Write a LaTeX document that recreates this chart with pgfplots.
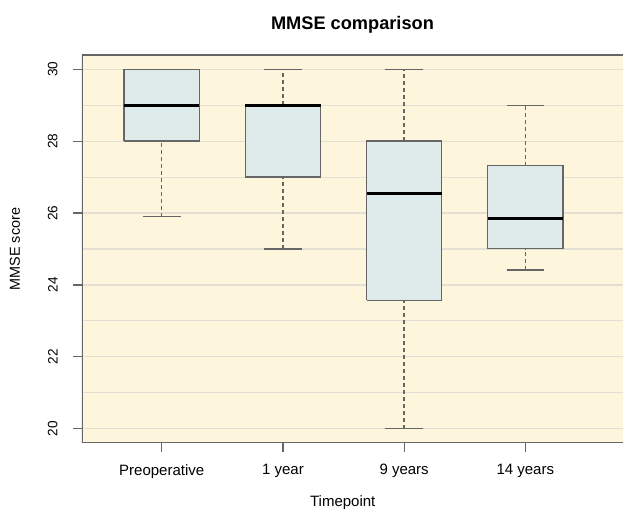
\documentclass[border=0pt]{standalone}
\usepackage{pgfplots}
\pgfplotsset{compat=1.18}
\usepackage{fontspec}
\setmainfont{Liberation Sans}
\definecolor{bgc}{HTML}{FEF6DC}
\definecolor{boxfill}{HTML}{DEEBEA}
\definecolor{gridc}{HTML}{E3DFD2}
\definecolor{edgec}{HTML}{666666}
\pgfplotsset{
  whisk/.style={edgec, line width=0.75pt, dash pattern=on 2pt off 1.5pt},
  capst/.style={edgec, line width=0.75pt},
  boxst/.style={draw=edgec, fill=boxfill, line width=0.75pt, line join=miter},
  medst/.style={black, line width=1.5pt},
}
\begin{document}
\begin{tikzpicture}
\begin{axis}[
  scale only axis,
  width=270.5pt, height=194pt,
  xmin=0.342, xmax=4.806,
  ymin=19.6, ymax=30.4,
  axis line style={draw=none},
  axis background/.style={fill=bgc},
  xtick={1,2,3,4},
  xticklabels={Preoperative,1 year,9 years,14 years},
  ytick={20,22,...,30},
  minor ytick={21,23,...,29},
  ymajorgrids, yminorgrids,
  major grid style={gridc, line width=0.6pt},
  minor grid style={gridc, line width=0.6pt},
  tick align=outside,
  xtick pos=bottom, ytick pos=left,
  major tick length=4.6pt,
  minor tick length=0pt,
  xtick style={edgec, line width=0.6pt},
  ytick style={edgec, line width=0.6pt},
  /pgf/number format/assume math mode=true,
  xticklabel style={font=\fontsize{7.5}{9}\selectfont, anchor=center, inner sep=0pt, yshift=-9.5pt},
  yticklabel style={font=\fontsize{6.8}{8}\selectfont, rotate=90, anchor=center, inner sep=0pt, yshift=10pt},
  title={MMSE comparison},
  title style={at={(rel axis cs:0.5,1)}, anchor=center, yshift=9pt, inner sep=0pt, font=\fontsize{9.1}{11}\selectfont\bfseries},
  xlabel={Timepoint},
  xlabel style={at={(rel axis cs:0.482,0)}, anchor=center, yshift=-30pt, inner sep=0pt, font=\fontsize{7.5}{9}\selectfont},
  ylabel={MMSE score},
  ylabel style={at={(rel axis cs:0,0.5)}, anchor=center, yshift=33.5pt, inner sep=0pt, font=\fontsize{7.2}{9}\selectfont},
]
% whiskers (dashed stems)
\addplot[whisk] coordinates {(1,25.9) (1,28)};
\addplot[whisk] coordinates {(2,25) (2,27)};
\addplot[whisk] coordinates {(2,29) (2,30)};
\addplot[whisk] coordinates {(3,20) (3,23.57)};
\addplot[whisk] coordinates {(3,28) (3,30)};
\addplot[whisk] coordinates {(4,24.41) (4,25.01)};
\addplot[whisk] coordinates {(4,27.32) (4,29)};
% whisker caps
\addplot[capst] coordinates {(0.845,25.9) (1.155,25.9)};
\addplot[capst] coordinates {(1.845,25) (2.155,25)};
\addplot[capst] coordinates {(1.845,30) (2.155,30)};
\addplot[capst] coordinates {(2.845,20) (3.155,20)};
\addplot[capst] coordinates {(2.845,30) (3.155,30)};
\addplot[capst] coordinates {(3.845,24.41) (4.155,24.41)};
\addplot[capst] coordinates {(3.845,29) (4.155,29)};
% boxes (lower quartile to upper quartile)
\addplot[boxst] coordinates {(0.69,28) (1.31,28) (1.31,30) (0.69,30) (0.69,28)};
\addplot[boxst] coordinates {(1.69,27) (2.31,27) (2.31,29) (1.69,29) (1.69,27)};
\addplot[boxst] coordinates {(2.69,23.57) (3.31,23.57) (3.31,28) (2.69,28) (2.69,23.57)};
\addplot[boxst] coordinates {(3.69,25.01) (4.31,25.01) (4.31,27.32) (3.69,27.32) (3.69,25.01)};
% medians
\addplot[medst] coordinates {(0.69,29) (1.31,29)};
\addplot[medst] coordinates {(1.69,29) (2.31,29)};
\addplot[medst] coordinates {(2.69,26.55) (3.31,26.55)};
\addplot[medst] coordinates {(3.69,25.86) (4.31,25.86)};
\draw[edgec, line width=0.8pt] (rel axis cs:1.02,1) -- (rel axis cs:0,1) -- (rel axis cs:0,0) -- (rel axis cs:1.02,0);
\end{axis}
\pgfresetboundingbox
\useasboundingbox (-41pt,-33pt) rectangle (270.5pt,221.5pt);
\end{tikzpicture}
\end{document}
